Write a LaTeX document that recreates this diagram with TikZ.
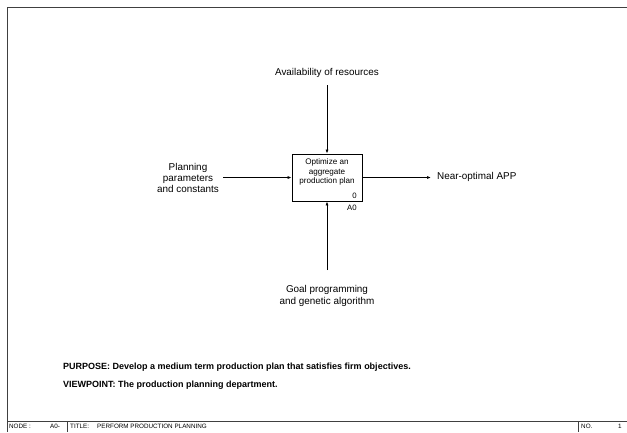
\documentclass[tikz,border=0pt]{standalone}
\usepackage{fontspec}
\setmainfont{Liberation Sans}
\usetikzlibrary{arrows.meta,positioning}

\begin{document}
\begin{tikzpicture}[x=1pt,y=-1pt]
	\tikzstyle{every node}=[font=\fontsize{9.9}{11.4}\selectfont, inner sep=1pt]
	\tikzstyle{arr}=[-{Latex[length=4pt,width=3pt]}, line width=0.7pt]
	\tikzstyle{fnbox}=[draw, line width=0.8pt, minimum width=70pt, minimum height=47pt]
	\tikzstyle{foot}=[font=\fontsize{6.3}{7}\selectfont, anchor=west]
	\useasboundingbox (0,0) rectangle (627,432);
	% frame
	\draw [line width=0.9pt, black!75] (627,7) -- (7,7) -- (7,432);
	\draw [line width=0.9pt, black!75] (7,421) -- (627,421);
	\draw [line width=0.9pt, black!75] (67,421) -- (67,432);
	\draw [line width=0.9pt, black!75] (578,421) -- (578,432);
	% activity box
	\node (a0) [fnbox] at (327,177.5) {};
	\node (a0txt) [align=center, font=\fontsize{8.1}{9.5}\selectfont] at (327,172) {Optimize an\\aggregate\\production plan};
	\node (a0num) [anchor=south east, font=\fontsize{7.8}{8}\selectfont] at ([xshift=-4.5pt,yshift=1.5pt]a0.south east) {0};
	\node (a0id) [anchor=north east, font=\fontsize{7.8}{8}\selectfont] at ([xshift=-4.5pt,yshift=-2pt]a0.south east) {A0};
	% labels
	\node (ctrl) at (327,73) {Availability of resources};
	\node (inp) [align=center] at (188,178) {Planning\\parameters\\and constants};
	\node (outp) [anchor=west] at (436,177) {Near-optimal APP};
	\node (mech) [align=center, font=\fontsize{9.9}{12}\selectfont] at (327,296) {Goal programming\\and genetic algorithm};
	\coordinate (ctrlend) at (327,85);
	\coordinate (inpend) at (223,177.5);
	\coordinate (outpend) at (431,177.5);
	\coordinate (mechend) at (327,270);
	% arrows
	\draw [arr] (ctrlend) -- (a0.north);
	\draw [arr] (inpend) -- (a0.west);
	\draw [arr] (a0.east) -- (outpend);
	\draw [arr] (mechend) -- (a0.south);
	% purpose and viewpoint
	\node (purp) [anchor=west, font=\fontsize{9}{10}\bfseries] at (62,367) {PURPOSE: Develop a medium term production plan that satisfies firm objectives.};
	\node (view) [anchor=west, font=\fontsize{9}{10}\bfseries] at (62,385) {VIEWPOINT: The production planning department.};
	% footer
	\node (fnode) [foot] at (8,426.5) {NODE :};
	\node (fid) [foot] at (49,426.5) {A0-};
	\node (ftitle) [foot] at (69,426.5) {TITLE:};
	\node (fname) [foot] at (96,426.5) {PERFORM PRODUCTION PLANNING};
	\node (fno) [foot] at (580,426.5) {NO.};
	\node (fnum) [foot] at (617,426.5) {1};
\end{tikzpicture}
\end{document}
